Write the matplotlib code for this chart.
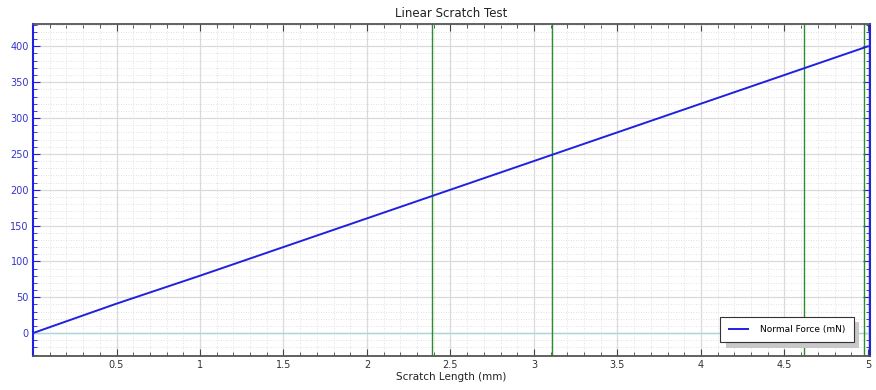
#!/usr/bin/env python3
"""Linear scratch test: normal force vs scratch length."""

import matplotlib
matplotlib.use('Agg')
import matplotlib.pyplot as plt
from matplotlib.ticker import MultipleLocator
import matplotlib.patheffects as pe

# Data
scratch_mm = [0.0, 0.5, 1.0, 1.5, 2.0, 2.5, 3.0, 3.5, 4.0, 4.5, 5.0]
normal_force = [0.0, 41.0, 80.0, 120.0, 160.0, 200.0, 240.0, 280.0, 320.0, 360.0, 400.0]
event_marks = [2.39, 3.11, 4.62, 4.975]

x_ticks = [0.5, 1, 1.5, 2, 2.5, 3, 3.5, 4, 4.5, 5]
x_labels = ['0.5', '1', '1.5', '2', '2.5', '3', '3.5', '4', '4.5', '5']
y_ticks = [0, 50, 100, 150, 200, 250, 300, 350, 400]

BLUE = '#2020e0'
LABEL_BLUE = '#3535c8'

fig = plt.figure(figsize=(8.76, 3.9), dpi=100)
ax = fig.add_axes([0.0377, 0.0872, 0.955, 0.851])

# Grid
ax.grid(which='major', color='#dadada', linewidth=0.9, linestyle='-')
ax.grid(which='minor', color='#d8d8d8', linewidth=0.6, linestyle=(0, (1, 2)))
ax.set_axisbelow(True)

# Zero line
ax.axhline(0, color='#a8d8d8', linewidth=1.0, zorder=1)

# Event markers
for xm in event_marks:
    ax.axvline(xm, color='#2e8b2e', linewidth=1.0, zorder=2)

ax.plot(scratch_mm, normal_force, color=BLUE, linewidth=1.4, label='Normal Force (mN)', zorder=3)

ax.set_xlim(0, 5.01)
ax.set_ylim(-32, 431)
ax.set_xticks(x_ticks)
ax.set_xticklabels(x_labels)
ax.set_yticks(y_ticks)
ax.xaxis.set_minor_locator(MultipleLocator(0.1))
ax.yaxis.set_minor_locator(MultipleLocator(10))

ax.tick_params(axis='x', which='both', direction='in', top=True, bottom=True,
               labelsize=7, colors='#444444', pad=3)
ax.tick_params(axis='x', which='major', length=5)
ax.tick_params(axis='x', which='minor', length=3)
ax.tick_params(axis='y', which='both', direction='in', left=True, right=True,
               labelsize=7, colors=BLUE, labelcolor=LABEL_BLUE, pad=3)
ax.tick_params(axis='y', which='major', length=5)
ax.tick_params(axis='y', which='minor', length=3)
for lbl in ax.get_xticklabels():
    lbl.set_color('#333333')

ax.spines['left'].set_color(BLUE)
ax.spines['right'].set_color(BLUE)
ax.spines['left'].set_linewidth(1.5)
ax.spines['right'].set_linewidth(1.5)
ax.spines['top'].set_color('#555555')
ax.spines['bottom'].set_color('#555555')
ax.spines['top'].set_linewidth(1.3)
ax.spines['bottom'].set_linewidth(1.3)

ax.set_title('Linear Scratch Test', fontsize=8.5, color='#222222', pad=5)
ax.set_xlabel('Scratch Length (mm)', fontsize=7.5, color='#222222', labelpad=1)

leg = ax.legend(loc='lower right', bbox_to_anchor=(0.981, 0.042), borderaxespad=0,
                fontsize=6.5, fancybox=False, framealpha=1, edgecolor='#333333',
                handlelength=2.2, borderpad=0.9, handletextpad=1.3)
leg.get_frame().set_linewidth(0.8)
leg.get_frame().set_path_effects([pe.SimplePatchShadow(offset=(4, -4), shadow_rgbFace='#c8c8c8', alpha=1), pe.Normal()])

plt.savefig('out.png', dpi=100)
